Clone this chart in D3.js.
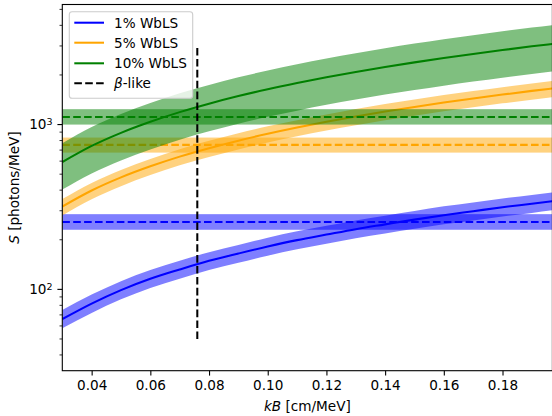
<!DOCTYPE html>
<html>
<head>
<meta charset="utf-8">
<script src="https://cdn.jsdelivr.net/npm/d3@7"></script>
<style>
  html, body { margin: 0; padding: 0; background: #fff; }
  svg { display: block; font-family: "DejaVu Sans", sans-serif; }
</style>
</head>
<body>
<svg id="chart" width="552" height="416"></svg>
<script>
// Birks constant samples (cm/MeV)
const kB = [0.030, 0.040, 0.050, 0.060, 0.070, 0.080, 0.090, 0.100, 0.110, 0.120,
            0.130, 0.140, 0.150, 0.160, 0.170, 0.180, 0.190, 0.197];

// Fitted light yield S (photons/MeV) with uncertainty band, per WbLS loading
const wbls1 = [66, 82, 99, 116, 132, 149, 165, 182, 199, 215, 232, 248, 265, 282, 298, 315, 331, 343];
const wbls1Lo = [58, 72, 87, 102, 116, 131, 145, 160, 175, 189, 204, 218, 233, 248, 262, 277, 291, 302];
const wbls1Hi = [75, 93, 112, 131, 149, 168, 186, 206, 225, 243, 262, 280, 299, 319, 337, 356, 374, 388];

const wbls5 = [318, 398, 478, 558, 639, 719, 799, 879, 959, 1039, 1120, 1200, 1280, 1360, 1440, 1520, 1601, 1657];
const wbls5Lo = [281, 352, 423, 494, 566, 636, 707, 778, 849, 920, 991, 1062, 1133, 1204, 1274, 1345, 1417, 1466];
const wbls5Hi = [353, 442, 531, 619, 709, 798, 887, 976, 1064, 1153, 1243, 1332, 1421, 1510, 1598, 1687, 1777, 1839];

const wbls10 = [592, 742, 891, 1040, 1190, 1339, 1489, 1638, 1787, 1937, 2086, 2236, 2385, 2534, 2684, 2833, 2983, 3087];
const wbls10Lo = [403, 505, 606, 707, 809, 911, 1013, 1114, 1215, 1317, 1418, 1520, 1622, 1723, 1825, 1926, 2028, 2099];
const wbls10Hi = [770, 965, 1158, 1352, 1547, 1741, 1936, 2129, 2323, 2518, 2712, 2907, 3101, 3294, 3489, 3683, 3878, 4013];

// beta-like reference yields: [low, central, high]
const betaLike1 = [230, 256, 286];
const betaLike5 = [676, 753, 834];
const betaLike10 = [1000, 1112, 1240];

// beta-like kB marker: position and vertical extent
const betaKB = 0.076;
const betaSpan = [50, 3000];

const seriesNames = ["1% WbLS", "5% WbLS", "10% WbLS"];
const seriesColors = ["#0000ff", "#ffa500", "#008000"];

const xTicks = [0.04, 0.06, 0.08, 0.10, 0.12, 0.14, 0.16, 0.18];
const yMajor = [100, 1000];
const yMinor = [40, 50, 60, 70, 80, 90, 200, 300, 400, 500, 600, 700, 800, 900, 2000, 3000, 4000, 5000];

const series = [
  { name: seriesNames[0], color: seriesColors[0], mid: wbls1, lo: wbls1Lo, hi: wbls1Hi, beta: betaLike1 },
  { name: seriesNames[1], color: seriesColors[1], mid: wbls5, lo: wbls5Lo, hi: wbls5Hi, beta: betaLike5 },
  { name: seriesNames[2], color: seriesColors[2], mid: wbls10, lo: wbls10Lo, hi: wbls10Hi, beta: betaLike10 }
];

const pL = 62.3, pR = 552.4, pT = 4.5, pB = 370.7;
const fs = 13.6, lw = 2.05, dash = "7.6,3.3";

const svg = d3.select("#chart");
const x = d3.scaleLinear().domain([0.03, 0.197]).range([pL, pR]);
const y = d3.scaleLog().domain([32.1, 5353]).range([pB, pT]);

svg.append("defs").append("clipPath").attr("id", "plotclip")
  .append("rect").attr("x", pL).attr("y", pT)
  .attr("width", pR - pL).attr("height", pB - pT);

const plot = svg.append("g").attr("clip-path", "url(#plotclip)");

const area = d3.area()
  .x((d, i) => x(kB[i]))
  .y0(d => y(d[0]))
  .y1(d => y(d[1]))
  .curve(d3.curveMonotoneX);
const line = d3.line()
  .x((d, i) => x(kB[i]))
  .y(d => y(d))
  .curve(d3.curveMonotoneX);

series.forEach(s => {
  const band = s.lo.map((v, i) => [v, s.hi[i]]);
  plot.append("path").attr("d", area(band))
    .attr("fill", s.color).attr("fill-opacity", 0.5).attr("stroke", "none");
  plot.append("path").attr("d", line(s.mid))
    .attr("fill", "none").attr("stroke", s.color).attr("stroke-width", lw);
  plot.append("rect")
    .attr("x", pL).attr("width", pR - pL)
    .attr("y", y(s.beta[2])).attr("height", y(s.beta[0]) - y(s.beta[2]))
    .attr("fill", s.color).attr("fill-opacity", 0.5);
  plot.append("line")
    .attr("x1", pL).attr("x2", pR)
    .attr("y1", y(s.beta[1])).attr("y2", y(s.beta[1]))
    .attr("stroke", s.color).attr("stroke-width", lw)
    .attr("stroke-dasharray", dash);
});

// beta-like kB marker
plot.append("line")
  .attr("x1", x(betaKB)).attr("x2", x(betaKB))
  .attr("y1", y(betaSpan[0])).attr("y2", y(betaSpan[1]))
  .attr("stroke", "#000").attr("stroke-width", lw)
  .attr("stroke-dasharray", dash);

// Axes
const xAxis = d3.axisBottom(x).tickValues(xTicks).tickFormat(d3.format(".2f"))
  .tickSize(4.9).tickPadding(4.6);
const gx = svg.append("g").attr("transform", `translate(0,${pB})`).call(xAxis);
gx.select(".domain").remove();
gx.selectAll("line").attr("stroke", "#000").attr("stroke-width", 1.1);
gx.selectAll("text").attr("font-size", fs).attr("fill", "#000")
  .attr("font-family", "DejaVu Sans");

const gy = svg.append("g").attr("transform", `translate(${pL},0)`);
gy.selectAll(".minor").data(yMinor).enter().append("line")
  .attr("x1", 0).attr("x2", -2.8)
  .attr("y1", d => y(d)).attr("y2", d => y(d))
  .attr("stroke", "#000").attr("stroke-width", 0.8);
gy.selectAll(".major").data(yMajor).enter().append("line")
  .attr("x1", 0).attr("x2", -4.9)
  .attr("y1", d => y(d)).attr("y2", d => y(d))
  .attr("stroke", "#000").attr("stroke-width", 1.1);
const ylab = gy.selectAll(".ylab").data(yMajor).enter().append("text")
  .attr("x", -9.8).attr("y", d => y(d)).attr("dy", "0.35em")
  .attr("text-anchor", "end").attr("font-size", fs).attr("fill", "#000");
ylab.append("tspan").text("10");
ylab.append("tspan").attr("dy", "-0.45em").attr("font-size", fs * 0.7)
  .text(d => String(Math.round(Math.log10(d))));

// Frame
svg.append("rect").attr("x", pL).attr("y", pT)
  .attr("width", pR - pL).attr("height", pB - pT)
  .attr("fill", "none").attr("stroke", "#000").attr("stroke-width", 1.1);

// Axis titles
const xt = svg.append("text").attr("x", (pL + pR) / 2).attr("y", 411)
  .attr("text-anchor", "middle").attr("font-size", fs).attr("fill", "#000");
xt.append("tspan").attr("font-style", "italic").text("kB");
xt.append("tspan").text(" [cm/MeV]");

const yt = svg.append("text")
  .attr("transform", `translate(18.5,${(pT + pB) / 2}) rotate(-90)`)
  .attr("text-anchor", "middle").attr("font-size", fs).attr("fill", "#000");
yt.append("tspan").attr("font-style", "italic").text("S");
yt.append("tspan").text(" [photons/MeV]");

// Legend
const lg = svg.append("g");
lg.append("rect").attr("x", 69.3).attr("y", 11.7).attr("width", 123.4).attr("height", 86.6)
  .attr("rx", 2.8).attr("fill", "#fff").attr("fill-opacity", 0.8)
  .attr("stroke", "#cccccc").attr("stroke-width", 1.1);
const rows = [
  { label: seriesNames[0], color: seriesColors[0], dashed: false },
  { label: seriesNames[1], color: seriesColors[1], dashed: false },
  { label: seriesNames[2], color: seriesColors[2], dashed: false },
  { label: "β-like", color: "#000", dashed: true }
];
const rowY = [22.7, 42.7, 63.3, 83.3];
rows.forEach((r, i) => {
  lg.append("line").attr("x1", 74.3).attr("x2", 104)
    .attr("y1", rowY[i]).attr("y2", rowY[i])
    .attr("stroke", r.color).attr("stroke-width", lw)
    .attr("stroke-dasharray", r.dashed ? dash : null);
  const t = lg.append("text").attr("x", 114).attr("y", rowY[i]).attr("dy", "0.36em")
    .attr("font-size", fs).attr("fill", "#000");
  if (r.dashed) {
    t.append("tspan").attr("font-style", "italic").text("β");
    t.append("tspan").text("-like");
  } else {
    t.text(r.label);
  }
});
</script>
</body>
</html>
